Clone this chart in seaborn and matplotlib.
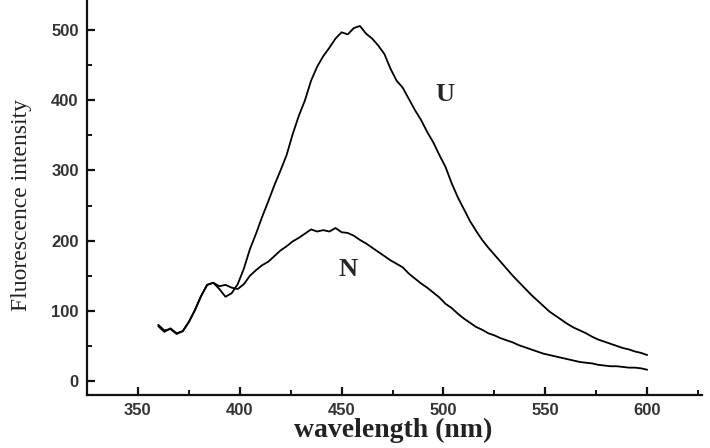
import numpy as np
import pandas as pd
import matplotlib
matplotlib.use("Agg")
import matplotlib.pyplot as plt
from matplotlib.ticker import MultipleLocator
import seaborn as sns

# wavelength grid (nm), 3 nm steps from 360 to 600
wavelength = np.arange(360, 601, 3)

# U curve
u_intensity = [80, 72, 74, 67, 71, 84, 101, 121, 137, 140,
               131, 120, 125, 138, 160, 188, 210, 234, 256, 279,
               300, 322, 352, 378, 400, 428, 448, 463, 475, 488,
               497, 494, 503, 506, 495, 488, 478, 466, 445, 428,
               418, 402, 386, 372, 355, 340, 322, 305, 282, 262,
               245, 228, 214, 201, 190, 180, 170, 160, 150, 141,
               132, 123, 115, 107, 99, 93, 87, 81, 76, 72,
               68, 63, 59, 56, 53, 50, 47, 45, 42, 40,
               37]

# N curve
n_intensity = [78, 70, 75, 68, 71, 84, 101, 121, 137, 140,
               135, 137, 133, 131, 138, 150, 158, 165, 170, 178,
               186, 192, 199, 204, 210, 216, 213, 215, 213, 218,
               212, 211, 207, 201, 196, 190, 184, 178, 172, 167,
               162, 153, 146, 139, 133, 126, 119, 110, 104, 96,
               89, 83, 77, 73, 68, 65, 61, 58, 55, 51,
               48, 45, 42, 39, 37, 35, 33, 31, 29, 27,
               26, 25, 23, 22, 21, 21, 20, 19, 19, 18,
               16]

curve_labels = ["U", "N"]
label_pos = [(500.5, 408), (453, 159)]

df = pd.DataFrame({
    "wavelength": np.concatenate([wavelength, wavelength]),
    "intensity": u_intensity + n_intensity,
    "sample": ["U"] * len(wavelength) + ["N"] * len(wavelength),
})

sns.set_style("ticks")

fig = plt.figure(figsize=(7.1, 4.48), dpi=100)
ax = fig.add_axes([0.1225, 0.1183, 0.8665, 0.8817])

for name in curve_labels:
    sns.lineplot(x="wavelength", y="intensity", data=df[df["sample"] == name],
                 color="black", linewidth=1.3, ax=ax, legend=False)

for name, (x, y) in zip(curve_labels, label_pos):
    ax.text(x, y, name, family="Liberation Serif", fontweight="bold",
            fontsize=19, color="#262626", ha="center", va="center")

ax.set_xlim(325, 627)
ax.set_ylim(-20, 543)
ax.xaxis.set_major_locator(MultipleLocator(50))
ax.xaxis.set_minor_locator(MultipleLocator(25))
ax.yaxis.set_major_locator(MultipleLocator(100))
ax.yaxis.set_minor_locator(MultipleLocator(50))

sns.despine(ax=ax)
for side in ["left", "bottom"]:
    ax.spines[side].set_linewidth(1.6)
    ax.spines[side].set_color("#111111")

ax.tick_params(which="major", direction="in", length=6, width=1.6, pad=6,
               color="#111111", labelcolor="#333333")
ax.tick_params(which="minor", direction="in", length=3.5, width=1.4,
               color="#111111")
for lab in ax.get_xticklabels() + ax.get_yticklabels():
    lab.set_family("Liberation Sans")
    lab.set_fontweight("bold")
    lab.set_fontsize(12)

ax.set_xlabel("wavelength (nm)", family="Liberation Serif", fontweight="bold",
              fontsize=20, color="#222222")
ax.set_ylabel("Fluorescence intensity", family="Liberation Serif",
              fontsize=17, color="#222222")
ax.xaxis.set_label_coords(0.497, -0.058)
ax.yaxis.set_label_coords(-0.09, 0.48)

fig.savefig("out.png", dpi=100)
